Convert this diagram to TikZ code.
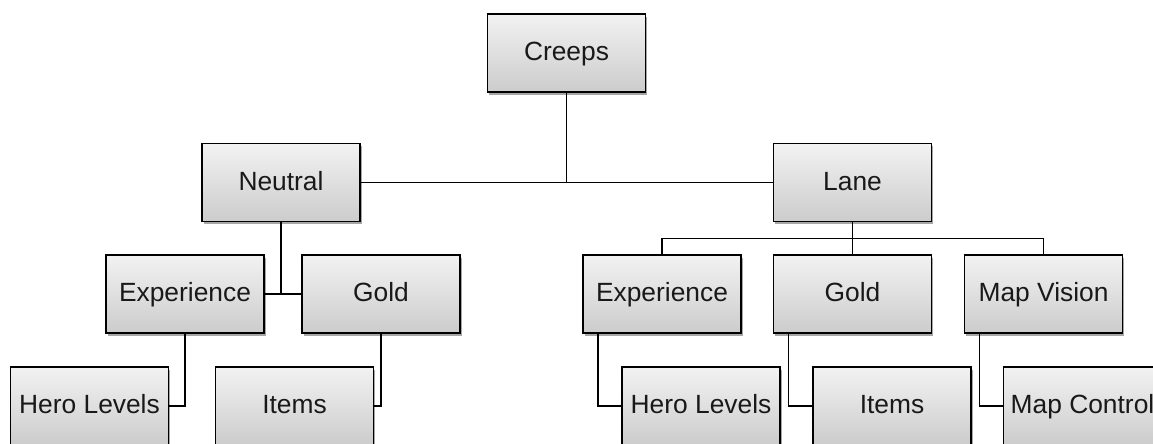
\documentclass[tikz,border=0pt]{standalone}
\usepackage{fontspec}
\setmainfont{Liberation Sans}
\usetikzlibrary{shadows}

\tikzset{
    box/.style={draw=black, line width=1.6pt, minimum width=4.74cm, minimum height=2.34cm,
        inner sep=0pt, top color=gray!10, bottom color=gray!40, text=black!90,
        font=\fontsize{22.5}{26}\selectfont, text height=13pt, text depth=0pt,
        drop shadow={shadow xshift=1.5pt, shadow yshift=-2.5pt, opacity=0.35, fill=black}},
    link/.style={line width=1.5pt}
}

\begin{document}
\begin{tikzpicture}[x=0.03cm, y=-0.03cm]
    \useasboundingbox (0,0) rectangle (1153,443);

    % top and second row
    \node[box] (creeps) at (566.5,53) {Creeps};
    \node[box] (neutral) at (281,182.5) {Neutral};
    \node[box] (lane) at (852.5,182.5) {Lane};

    % neutral side
    \node[box] (expL) at (185,294) {Experience};
    \node[box] (goldL) at (381,294) {Gold};
    \node[box] (heroL) at (89.5,406) {Hero Levels};
    \node[box] (itemsL) at (294.5,406) {Items};

    % lane side
    \node[box] (expR) at (662,294) {Experience};
    \node[box] (goldR) at (852.5,294) {Gold};
    \node[box] (visionR) at (1043.5,294) {Map Vision};
    \node[box] (heroR) at (701,406) {Hero Levels};
    \node[box] (itemsR) at (892,406) {Items};
    \node[box] (controlR) at (1082.5,406) {Map Control};

    % connectors
    \draw[link] (neutral.east) -- (lane.west);
    \draw[link] (creeps.south) -- (creeps.south |- neutral.east);

    \draw[link] (expL.east) -- (goldL.west);
    \draw[link] (neutral.south) -- (neutral.south |- expL.east);
    \draw[link] (expL.south) |- (heroL.east);
    \draw[link] (goldL.south) |- (itemsL.east);

    \coordinate (laneBus) at ([yshift=-0.48cm]lane.south);
    \draw[link] (lane.south) -- (goldR.north);
    \draw[link] (expR.north) |- (laneBus) -| (visionR.north);
    \draw[link] ([xshift=0.48cm]expR.south west) |- (heroR.west);
    \draw[link] ([xshift=0.48cm]goldR.south west) |- (itemsR.west);
    \draw[link] ([xshift=0.48cm]visionR.south west) |- (controlR.west);
\end{tikzpicture}
\end{document}
